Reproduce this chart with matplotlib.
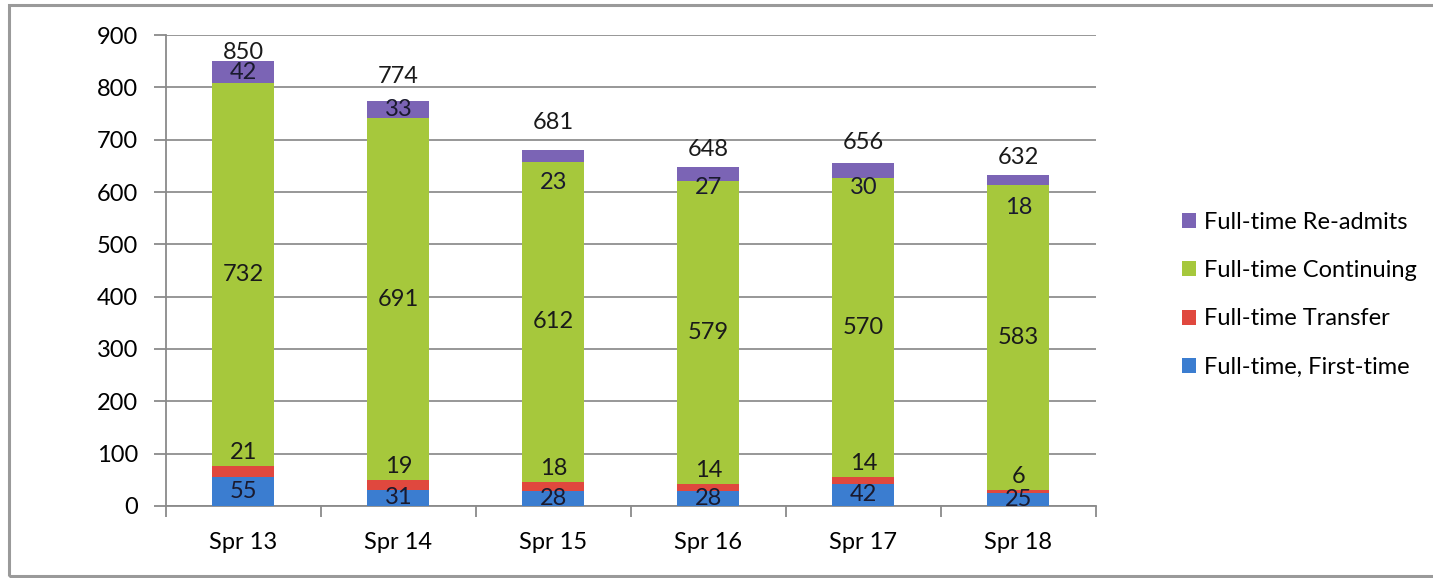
import matplotlib.pyplot as plt
from matplotlib.patches import Rectangle

plt.rcParams["font.family"] = ["Lato", "DejaVu Sans"]

terms = ["Spr 13", "Spr 14", "Spr 15", "Spr 16", "Spr 17", "Spr 18"]
first_time = [55, 31, 28, 28, 42, 25]
transfer = [21, 19, 18, 14, 14, 6]
continuing = [732, 691, 612, 579, 570, 583]
readmits = [42, 33, 23, 27, 30, 18]
totals = [850, 774, 681, 648, 656, 632]

# label nudges in points (as placed on the original chart)
readmit_shift = [0, 0, -19, -10, -12, -20]
total_shift = [-1, 10, 12, 5, 7, 5]

colors = {
    "first": "#3b7dd0",
    "transfer": "#e0483e",
    "cont": "#a6c83c",
    "readmit": "#7b64b5",
}

fig = plt.figure(figsize=(14.33, 5.78), dpi=100)
ax = fig.add_axes([0.1158, 0.1246, 0.649, 0.8148])

x = list(range(len(terms)))
w = 0.4
b1 = first_time
b2 = [a + b for a, b in zip(b1, transfer)]
b3 = [a + b for a, b in zip(b2, continuing)]

ax.bar(x, first_time, w, color=colors["first"], label="Full-time, First-time", zorder=3)
ax.bar(x, transfer, w, bottom=b1, color=colors["transfer"], label="Full-time Transfer", zorder=3)
ax.bar(x, continuing, w, bottom=b2, color=colors["cont"], label="Full-time Continuing", zorder=3)
ax.bar(x, readmits, w, bottom=b3, color=colors["readmit"], label="Full-time Re-admits", zorder=3)

fs = 17
for i in x:
    ax.text(i, first_time[i] / 2, str(first_time[i]), ha="center", va="center", fontsize=fs, color="#1a1a2e", zorder=4)
    ax.annotate(str(transfer[i]), (i, b2[i]), xytext=(0, 2), textcoords="offset points",
                ha="center", va="bottom", fontsize=fs, color="#1a1a1a", zorder=4)
    ax.text(i, b2[i] + continuing[i] / 2, str(continuing[i]), ha="center", va="center", fontsize=fs, color="#1a1a1a", zorder=4)
    ax.annotate(str(readmits[i]), (i, b3[i] + readmits[i] / 2), xytext=(0, readmit_shift[i]),
                textcoords="offset points", ha="center", va="center", fontsize=fs, color="#1a1a2e", zorder=4)
    ax.annotate(str(totals[i]), (i, totals[i]), xytext=(0, total_shift[i]), textcoords="offset points",
                ha="center", va="bottom", fontsize=fs, color="#1a1a1a", zorder=4)

ax.set_xlim(-0.5, len(terms) - 0.5)
ax.set_ylim(0, 900)
ax.set_yticks(range(0, 901, 100))
ax.set_xticks(x)
ax.set_xticklabels(terms)
ax.set_xticks([i - 0.5 for i in range(len(terms) + 1)], minor=True)
ax.tick_params(axis="x", which="major", length=0, pad=19, labelsize=fs)
ax.tick_params(axis="x", which="minor", length=8, width=1.3, color="#8a8a8a", direction="out")
ax.tick_params(axis="y", length=9, width=1.3, color="#8a8a8a", pad=11, labelsize=fs)

ax.grid(axis="y", color="#8f8f8f", linewidth=1.3, zorder=0)
for side in ["top", "right"]:
    ax.spines[side].set_visible(False)
for side in ["left", "bottom"]:
    ax.spines[side].set_color("#8a8a8a")
    ax.spines[side].set_linewidth(1.3)

handles, labels = ax.get_legend_handles_labels()
fig.legend(handles[::-1], labels[::-1], loc="center left", bbox_to_anchor=(0.81, 0.49),
           frameon=False, fontsize=fs, handlelength=0.6, handleheight=0.6,
           handletextpad=0.35, labelspacing=1.15)

# outer chart border
fig.patches.append(Rectangle((0.0065, 0.003), 1.1, 0.989, transform=fig.transFigure,
                             fill=False, edgecolor="#9a9a9a", linewidth=2.2))

fig.savefig("out.png", dpi=100)
